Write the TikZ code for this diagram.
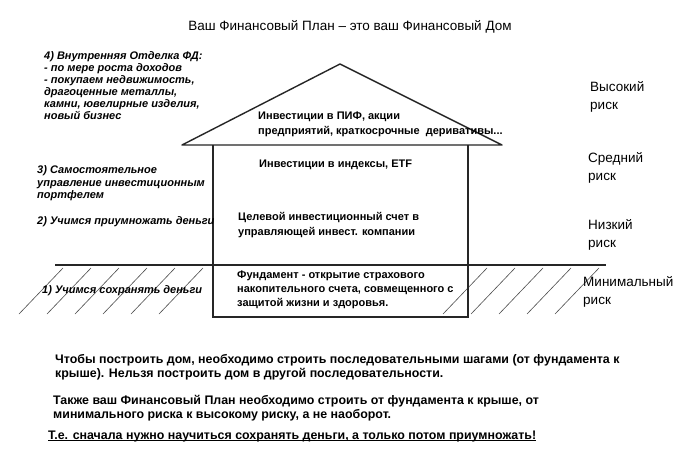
\documentclass[tikz,border=0pt]{standalone}
\usepackage{fontspec}
\setmainfont{Liberation Sans}
\usepackage{tikz}

\begin{document}
\begin{tikzpicture}[
    x=1pt, y=-1pt,
    step note/.style={
        anchor=north west,
        inner sep=0pt,
        align=left,
        font=\fontsize{11}{11.9}\selectfont\bfseries\itshape
    },
    room/.style={
        anchor=north west,
        inner sep=0pt,
        align=left,
        font=\fontsize{11}{14.8}\selectfont\bfseries
    },
    risk/.style={
        anchor=north west,
        inner sep=0pt,
        align=left,
        font=\fontsize{13.5}{18}\selectfont
    },
    remark/.style={
        anchor=north west,
        inner sep=0pt,
        align=left,
        font=\fontsize{12.4}{13.4}\selectfont\bfseries
    },
    wall/.style={line width=1.4pt, draw=black!85},
    hatch/.style={line width=0.6pt, draw=black!70}
]

\fill[white] (0,0) rectangle (700,461);
\useasboundingbox (0,0) rectangle (700,461);

% title
\node[font=\fontsize{13.5}{16}\selectfont] (title) at (350,27)
    {Ваш Финансовый План -- это ваш Финансовый Дом};

% ground
\foreach \gx in {63,91,119,147,175,203,487,515,543,571,599}
    \draw[hatch] (\gx,268) -- (\gx-44,314);
\coordinate (groundL) at (55,265);
\coordinate (groundR) at (606,265);
\draw[line width=1.8pt, draw=black!85] (groundL) -- (groundR);

% house
\coordinate (apex) at (340,64);
\coordinate (eaveL) at (182,145);
\coordinate (eaveR) at (502,145);
\draw[wall, line join=round] (eaveL) -- (apex) -- (eaveR) -- cycle;
\draw[wall] (213,145) -- (213,317) -- (468,317) -- (468,145);

% inside the house
\node[room] (roof) at (258,111.5)
    {Инвестиции в ПИФ, акции\\предприятий, краткосрочные\ \ деривативы...};
\node[room] (etf) at (259,159.5) {Инвестиции в индексы, ETF};
\node[room] (goal) at (238,212.5)
    {Целевой инвестиционный счет в\\управляющей инвест. компании};
\node[room, font=\fontsize{11}{14}\selectfont\bfseries] (base) at (237,270.5)
    {Фундамент - открытие страхового\\накопительного счета, совмещенного с\\защитой жизни и здоровья.};

% steps on the left
\node[step note] (step4) at (44,51.5)
    {4) Внутренняя Отделка ФД:\\- по мере роста доходов\\- покупаем недвижимость,\\драгоценные металлы,\\камни, ювелирные изделия,\\новый бизнес};
\node[step note, font=\fontsize{11}{12.5}\selectfont\bfseries\itshape] (step3) at (37,165.5)
    {3) Самостоятельное\\управление инвестиционным\\портфелем};
\node[step note] (step2) at (37,216.5) {2) Учимся приумножать деньги};
\node[step note] (step1) at (42,285.5) {1) Учимся сохранять деньги};

% risk levels
\node[risk] (high) at (590,81) {Высокий\\риск};
\node[risk] (mid) at (588,152) {Средний\\риск};
\node[risk] (low) at (588,219) {Низкий\\риск};
\node[risk] (minimal) at (583,276) {Минимальный\\риск};

% remarks
\node[remark] (order) at (55,354.5)
    {Чтобы построить дом, необходимо строить последовательными шагами (от фундамента к\\крыше). Нельзя построить дом в другой последовательности.};
\node[remark] (plan) at (53,395.5)
    {Также ваш Финансовый План необходимо строить от фундамента к крыше, от\\минимального риска к высокому риску, а не наоборот.};
\node[remark, anchor=base west] (moral) at (48,439)
    {Т.е. сначала нужно научиться сохранять деньги, а только потом приумножать!};
\draw[line width=1.2pt] ([yshift=-1.8pt]moral.base west) -- ([yshift=-1.8pt]moral.base east);

\end{tikzpicture}
\end{document}
